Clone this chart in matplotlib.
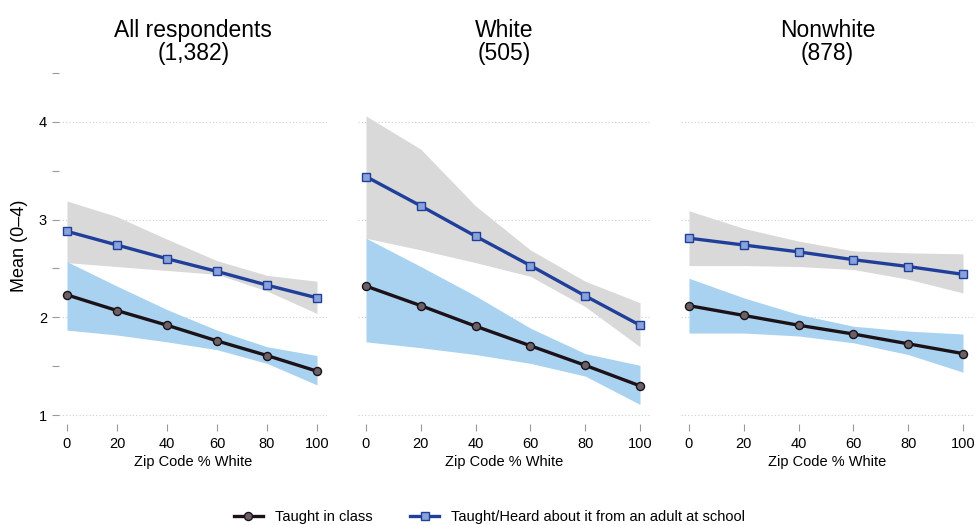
import matplotlib
matplotlib.use("Agg")
import matplotlib.pyplot as plt
import numpy as np

plt.rcParams['font.family'] = ['Liberation Sans', 'DejaVu Sans']

x = [0, 20, 40, 60, 80, 100]
titles = ["All respondents\n(1,382)", "White\n(505)", "Nonwhite\n(878)"]

# Taught in class (black line, blue CI band)
class_mean = [
    [2.23, 2.07, 1.92, 1.76, 1.61, 1.45],
    [2.32, 2.12, 1.91, 1.71, 1.51, 1.30],
    [2.12, 2.02, 1.92, 1.83, 1.73, 1.63],
]
class_hi = [
    [2.57, 2.32, 2.08, 1.87, 1.70, 1.61],
    [2.81, 2.52, 2.22, 1.89, 1.63, 1.51],
    [2.40, 2.20, 2.03, 1.91, 1.86, 1.83],
]
class_lo = [
    [1.87, 1.82, 1.75, 1.67, 1.53, 1.31],
    [1.75, 1.69, 1.62, 1.53, 1.40, 1.11],
    [1.84, 1.84, 1.81, 1.74, 1.62, 1.44],
]
# Taught/Heard from adult at school (blue line, gray CI band)
adult_mean = [
    [2.88, 2.74, 2.60, 2.47, 2.33, 2.20],
    [3.44, 3.14, 2.83, 2.53, 2.22, 1.92],
    [2.81, 2.74, 2.67, 2.59, 2.52, 2.44],
]
adult_hi = [
    [3.19, 3.03, 2.80, 2.58, 2.43, 2.37],
    [4.06, 3.72, 3.14, 2.69, 2.37, 2.15],
    [3.09, 2.91, 2.78, 2.68, 2.66, 2.65],
]
adult_lo = [
    [2.56, 2.52, 2.48, 2.44, 2.27, 2.04],
    [2.81, 2.69, 2.56, 2.42, 2.11, 1.70],
    [2.53, 2.53, 2.52, 2.49, 2.39, 2.25],
]
legend_labels = ["Taught in class", "Taught/Heard about it from an adult at school"]

W, H = 979, 525
fig = plt.figure(figsize=(W / 100, H / 100), dpi=100)

xlim = (-3, 104)
# panel pixel positions of x=0 and x=100
panel_px = [(67, 317), (366, 640), (689, 963)]
ybot_px, ytop_px = 424, 68
ylim = (0.91, 4.55)

black = "#1b1117"
blue = "#1f3f9a"
gray_band = "#d9d9d9"
blue_band = "#a8d2f0"
tickc = "#9a9a9a"

axes = []
for i, (p0, p100) in enumerate(panel_px):
    s = (p100 - p0) / 100.0
    left = p0 + xlim[0] * s
    right = p0 + xlim[1] * s
    ax = fig.add_axes([left / W, 1 - ybot_px / H, (right - left) / W, (ybot_px - ytop_px) / H])
    axes.append(ax)
    ax.set_xlim(*xlim)
    ax.set_ylim(*ylim)
    for sp in ax.spines.values():
        sp.set_visible(False)
    for yv in [1, 2, 3, 4]:
        ax.axhline(yv, color="#cfcfcf", lw=0.8, ls=(0, (1, 2)), zorder=0)
    ax.fill_between(x, adult_lo[i], adult_hi[i], color=gray_band, lw=0, zorder=1)
    ax.fill_between(x, class_lo[i], class_hi[i], color=blue_band, lw=0, zorder=1)
    ax.plot(x, adult_mean[i], color=blue, lw=2.4, marker="s", ms=5.5,
            mfc="#8aa2da", mec=blue, mew=1.0, zorder=3, label=legend_labels[1])
    ax.plot(x, class_mean[i], color=black, lw=2.4, marker="o", ms=5.8,
            mfc="#6a6068", mec=black, mew=1.0, zorder=3, label=legend_labels[0])
    ax.set_xticks(x)
    ax.set_xticklabels([str(v) for v in x], fontsize=10.5)
    ax.tick_params(axis="x", length=5, color=tickc, width=0.8, pad=4)
    ax.set_xlabel("Zip Code % White", fontsize=10.5, labelpad=3)
    ax.set_title(titles[i], fontsize=16.5, linespacing=1.0, pad=6)
    if i == 0:
        ax.set_yticks([1, 2, 3, 4])
        ax.set_yticklabels(["1", "2", "3", "4"], fontsize=10.5)
        ax.set_yticks([1.5, 2.5, 3.5, 4.5], minor=True)
        ax.tick_params(axis="y", which="both", length=5, color=tickc, width=0.8, pad=4)
        ax.set_ylabel("Mean (0–4)", fontsize=13, labelpad=8)
    else:
        ax.set_yticks([])

h, l = axes[0].get_legend_handles_labels()
fig.legend([h[1], h[0]], [l[1], l[0]], loc="center", bbox_to_anchor=(0.5, 1 - 517 / H),
           ncol=2, frameon=False, fontsize=10.5, handlelength=2.0, columnspacing=2.6,
           handletextpad=0.8)

fig.savefig("out.png", dpi=100, facecolor="white")
